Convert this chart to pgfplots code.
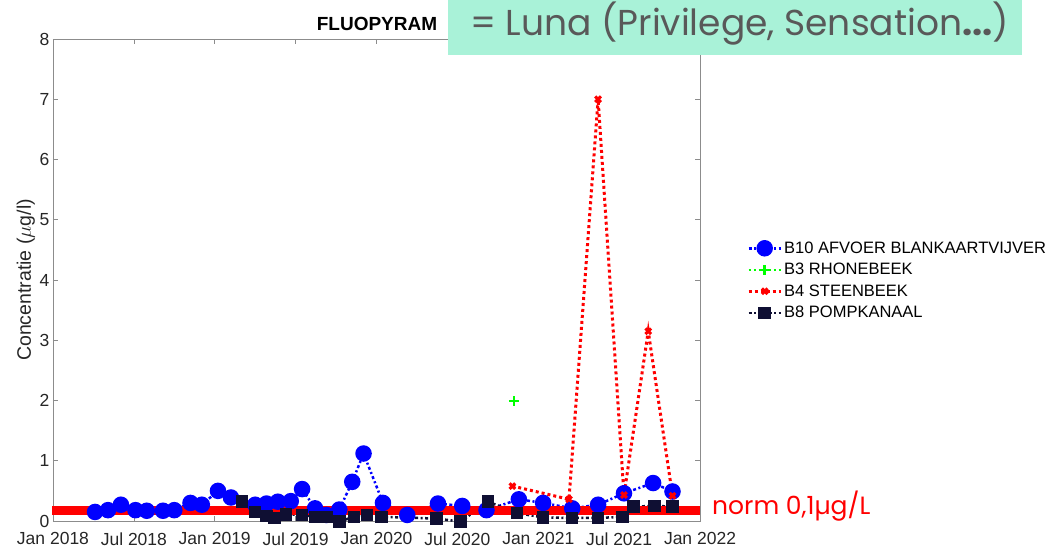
\documentclass[border=0pt]{standalone}
\usepackage{fontspec}
\setmainfont{Liberation Sans}
\newfontfamily\geo{Poppins}
\usepackage{pgfplots}
\pgfplotsset{compat=1.18}
\definecolor{bten}{HTML}{0000FF}
\definecolor{bthree}{HTML}{00FF00}
\definecolor{bfour}{HTML}{FF0000}
\definecolor{beight}{HTML}{0F0F33}
\definecolor{mint}{HTML}{A9F2D8}
\definecolor{framegray}{HTML}{8C8C8C}

\begin{document}
\begin{tikzpicture}
\useasboundingbox (0,0) rectangle (1051bp,553bp);
\begin{axis}[
    anchor=south west,
    at={(53bp,32bp)},
    scale only axis,
    width=647bp,
    height=482bp,
    xmin=2018, xmax=2022,
    ymin=0, ymax=8,
    xtick={2018,2018.5,2019,2019.5,2020,2020.5,2021,2021.5,2022},
    xticklabels={Jan 2018,Jul 2018,Jan 2019,Jul 2019,Jan 2020,Jul 2020,Jan 2021,Jul 2021,Jan 2022},
    ytick={0,1,...,8},
    tick align=inside,
    major tick length=5bp,
    axis line style={framegray, line width=0.6bp},
    tick style={framegray, line width=0.6bp},
    ticklabel style={font=\fontsize{17.5bp}{20bp}\selectfont, text=black!85},
    xticklabel style={yshift=-8bp},
    /pgf/number format/assume math mode=true,
    ylabel={Concentratie ($\mu$g/l)},
    ylabel style={font=\fontsize{19.5bp}{22bp}\selectfont, text=black!85, yshift=-2bp},
    legend style={draw=none, fill=none, at={(1.068,0.588)}, anchor=north west,
        font=\fontsize{16.5bp}{19bp}\selectfont, row sep=4.5bp,
        /tikz/every even column/.append style={column sep=2bp}},
    legend cell align=left,
    legend image code/.code={%
        \draw[mark repeat=2,mark phase=2] plot coordinates {(0bp,0bp) (16bp,0bp) (32bp,0bp)};},
    clip=false,
]
% B10 afvoer blankaartvijver
\addplot[bten, line width=2.5bp, dash pattern=on 3bp off 2.5bp on 2bp off 2.5bp,
    mark=*, mark size=7bp, mark options={solid, fill=bten}]
  coordinates {
    (2018.26,0.15) (2018.34,0.18) (2018.42,0.27) (2018.51,0.18)
    (2018.58,0.17) (2018.68,0.17) (2018.75,0.18) (2018.85,0.30)
    (2018.92,0.27) (2019.02,0.50) (2019.10,0.39) (2019.25,0.27)
    (2019.32,0.29) (2019.39,0.32) (2019.47,0.33) (2019.54,0.53)
    (2019.62,0.21) (2019.69,0.10) (2019.77,0.19) (2019.85,0.65)
    (2019.92,1.12) (2020.04,0.30) (2020.19,0.10) (2020.38,0.29)
    (2020.53,0.25) (2020.68,0.18) (2020.88,0.36) (2021.03,0.30)
    (2021.21,0.21) (2021.37,0.27) (2021.53,0.46) (2021.71,0.63)
    (2021.83,0.49)
  };
\addlegendentry{B10 AFVOER BLANKAARTVIJVER}
% B3 rhonebeek
\addplot[bthree, line width=2.5bp, dash pattern=on 2.5bp off 2.5bp,
    mark=+, mark size=5bp, mark options={solid}]
  coordinates {(2020.85,1.99)};
\addlegendentry{B3 RHONEBEEK}
% B4 steenbeek
\addplot[bfour, line width=3bp, dash pattern=on 3bp off 3bp,
    mark=x, mark size=4bp, mark options={solid}]
  coordinates {
    (2020.84,0.58) (2021.19,0.36) (2021.37,7.00)
    (2021.53,0.43) (2021.68,3.15) (2021.83,0.42)
  };
\addlegendentry{B4 STEENBEEK}
% B8 pompkanaal
\addplot[beight, line width=2.5bp, dash pattern=on 3bp off 2.5bp on 2bp off 2.5bp,
    mark=square*, mark size=5bp, mark options={solid, fill=beight}]
  coordinates {
    (2019.17,0.32) (2019.25,0.15) (2019.32,0.08) (2019.37,0.05)
    (2019.44,0.11) (2019.54,0.10) (2019.62,0.07) (2019.69,0.07)
    (2019.77,-0.01) (2019.86,0.07) (2019.94,0.10) (2020.03,0.07)
    (2020.37,0.04) (2020.52,-0.01) (2020.69,0.32) (2020.87,0.13)
    (2021.03,0.06) (2021.21,0.05) (2021.37,0.05) (2021.52,0.07)
    (2021.59,0.24) (2021.72,0.25) (2021.83,0.24)
  };
\addlegendentry{B8 POMPKANAAL}
% norm line
\addplot[bfour, line width=9bp, forget plot]
  coordinates {(2017.995,0.18) (2022.0,0.18)};
\end{axis}
\node[font=\bfseries\fontsize{19bp}{22bp}\selectfont, anchor=base] at (377bp,522bp) {FLUOPYRAM};
\fill[mint] (448bp,498bp) rectangle (1022bp,553bp);
\node[font=\geo\fontsize{36bp}{39bp}\selectfont, text=black!65, anchor=base west, inner sep=0pt]
  at (470bp,517bp) {= Luna (Privilege, Sensation\textbf{...})};
\node[font=\geo\fontsize{25bp}{28bp}\selectfont, text=bfour, anchor=base west, inner sep=0pt]
  at (712bp,39bp) {norm 0,1µg/L};
\end{tikzpicture}
\end{document}
